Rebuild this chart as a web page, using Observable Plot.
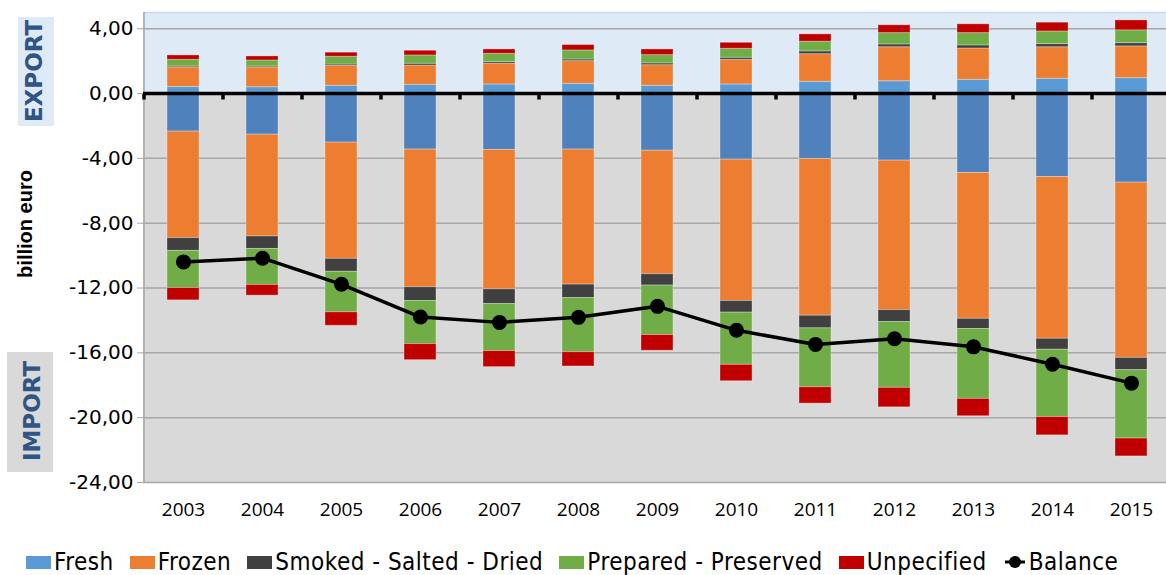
<!DOCTYPE html>
<html>
<head>
<meta charset="utf-8">
<script src="https://cdn.jsdelivr.net/npm/d3@7"></script>
<script src="https://cdn.jsdelivr.net/npm/@observablehq/plot@0.6"></script>
<style>
  html, body { margin: 0; padding: 0; background: white; overflow: hidden; }
  #wrap { position: relative; width: 1166px; height: 575px; overflow: hidden; }
  #wrap svg { overflow: hidden; }
  .vlab { position: absolute; transform: translate(-50%, -50%) rotate(-90deg); white-space: nowrap; }
  .box { position: absolute; }
  #legend { position: absolute; left: 26px; top: 547px; display: flex; align-items: center; height: 30px;
            font-family: "DejaVu Sans Condensed", "DejaVu Sans", sans-serif; font-stretch: condensed; font-size: 24px;
            letter-spacing: 0.5px; color: #000; }
  .item { display: flex; align-items: center; margin-right: 16px; }
  .sw { width: 25px; height: 13px; margin-right: 3px; }
</style>
</head>
<body>
<div id="wrap"></div>
<script>
// ---- data (billion euro) ----
const years = ["2003","2004","2005","2006","2007","2008","2009","2010","2011","2012","2013","2014","2015"];
const categories = ["Fresh","Frozen","Smoked - Salted - Dried","Prepared - Preserved","Unpecified"];

// exports (positive)
const expFresh     = [0.41,0.39,0.48,0.54,0.56,0.60,0.48,0.56,0.72,0.76,0.85,0.91,0.95];
const expFrozen    = [1.20,1.22,1.23,1.19,1.28,1.40,1.27,1.52,1.71,2.10,1.93,1.95,1.96];
const expSmoked    = [0.06,0.06,0.08,0.11,0.10,0.10,0.11,0.13,0.17,0.17,0.19,0.19,0.20];
const expPrepared  = [0.41,0.37,0.48,0.51,0.51,0.56,0.51,0.55,0.60,0.70,0.76,0.78,0.79];
const expUnspec    = [0.27,0.25,0.25,0.29,0.27,0.33,0.35,0.37,0.45,0.48,0.54,0.54,0.61];

// imports (shown below zero)
const impFresh     = [2.35,2.54,3.03,3.46,3.48,3.46,3.53,4.08,4.04,4.14,4.90,5.15,5.50];
const impFrozen    = [6.57,6.28,7.17,8.49,8.60,8.33,7.62,8.72,9.67,9.22,9.00,9.98,10.81];
const impSmoked    = [0.79,0.77,0.80,0.85,0.91,0.83,0.70,0.72,0.78,0.74,0.63,0.68,0.76];
const impPrepared  = [2.29,2.22,2.50,2.66,2.90,3.34,3.05,3.22,3.63,4.06,4.31,4.15,4.22];
const impUnspec    = [0.76,0.66,0.83,0.99,0.99,0.88,0.97,1.01,1.01,1.20,1.07,1.13,1.10];

// trade balance
const balance      = [-10.39,-10.16,-11.77,-13.79,-14.12,-13.81,-13.13,-14.61,-15.48,-15.13,-15.63,-16.70,-17.87];

const yTicks = [4,0,-4,-8,-12,-16,-20,-24];
const yMin = -24, yMax = 5;

// ---- build tables ----
const expSeries = [expFresh, expFrozen, expSmoked, expPrepared, expUnspec];
const impSeries = [impFresh, impFrozen, impSmoked, impPrepared, impUnspec];
const colorKeys = ["Fresh export","Fresh import","Frozen","Smoked - Salted - Dried","Prepared - Preserved","Unpecified"];
const colorRange = ["#5b9bd5","#4f81bd","#ed7d31","#404040","#70ad47","#c00000"];

const rows = [];
categories.forEach((c, ci) => years.forEach((yr, i) => rows.push({
  year: yr, cat: c, z: "E " + c, value: expSeries[ci][i], key: ci === 0 ? "Fresh export" : c })));
categories.forEach((c, ci) => years.forEach((yr, i) => rows.push({
  year: yr, cat: c, z: "I " + c, value: -impSeries[ci][i], key: ci === 0 ? "Fresh import" : c })));
const balRows = years.map((yr, i) => ({year: yr, value: balance[i]}));

const W = 1166, H = 530;
const xRange = [143, 1170];
const step = (xRange[1] - xRange[0]) / years.length;

const chart = Plot.plot({
  width: W, height: H,
  marginLeft: 143, marginRight: 0, marginTop: 12, marginBottom: 48,
  style: { background: "white", color: "#000", fontFamily: "DejaVu Sans", overflow: "hidden" },
  x: { type: "band", domain: years, range: xRange, paddingInner: 0.6, paddingOuter: 0.3, label: null },
  y: { domain: [yMin, yMax], label: null },
  color: { domain: colorKeys, range: colorRange },
  marks: [
    Plot.rect([{lo: yMin, hi: 0}], { y1: "lo", y2: "hi", fill: "#d9d9d9" }),
    Plot.rect([{lo: 0, hi: yMax}], { y1: "lo", y2: "hi", fill: "#deebf7" }),
    Plot.ruleY(yTicks.filter(d => d !== 0), { stroke: "#a6a6a6", strokeWidth: 1.5 }),
    Plot.ruleY([yMax], { stroke: "#c5d9f1", strokeWidth: 1.5 }),
    Plot.ruleX([years[0]], { dx: -step / 2, stroke: "#a6a6a6", strokeWidth: 1.5 }),
    Plot.barY(rows, { x: "year", y: "value", z: "z", fill: "key", stroke: "white", strokeOpacity: 0.3, strokeWidth: 1 }),
    Plot.ruleY([0], { stroke: "black", strokeWidth: 3.5 }),
    Plot.ruleX(years, { x: d => d, y1: 0, y2: -0.4, dx: -step / 2, stroke: "black", strokeWidth: 3.5 }),
    Plot.line(balRows, { x: "year", y: "value", stroke: "black", strokeWidth: 3.5 }),
    Plot.dot(balRows, { x: "year", y: "value", r: 7.5, fill: "black", stroke: "none" }),
    Plot.axisY(yTicks, { tickSize: 6, tickPadding: 4, stroke: "#a6a6a6", fontSize: 20, fontFamily: "DejaVu Sans",
      tickFormat: d => d.toFixed(2).replace(".", ","), label: null }),
    Plot.axisX({ tickSize: 0, tickPadding: 20, fontSize: 19, fontFamily: "Open Sans", label: null })
  ]
});

const wrap = document.getElementById("wrap");
wrap.appendChild(chart);

// side labels
function addBox(left, top, w, h, bg) {
  const d = document.createElement("div");
  d.className = "box";
  Object.assign(d.style, { left: left + "px", top: top + "px", width: w + "px", height: h + "px", background: bg });
  wrap.appendChild(d);
}
function addVLabel(text, cx, cy, css) {
  const d = document.createElement("div");
  d.className = "vlab";
  d.textContent = text;
  Object.assign(d.style, { left: cx + "px", top: cy + "px" }, css);
  wrap.appendChild(d);
}
addBox(18, 17, 36, 109, "#deebf7");
addBox(7, 352, 46, 120, "#d9d9d9");
const sideCss = { fontFamily: "DejaVu Sans", fontWeight: "bold", fontSize: "23px", color: "#2e5583" };
addVLabel("EXPORT", 34, 71, sideCss);
addVLabel("IMPORT", 32, 411, sideCss);
addVLabel("billion euro", 25, 224, { fontFamily: "Liberation Sans", fontWeight: "bold", fontSize: "20px", color: "#000" });

// legend
const legend = document.createElement("div");
legend.id = "legend";
const legItems = [
  ["Fresh", "#5b9bd5"], ["Frozen", "#ed7d31"], ["Smoked - Salted - Dried", "#404040"],
  ["Prepared - Preserved", "#70ad47"], ["Unpecified", "#c00000"]
];
legItems.forEach(([name, col]) => {
  const it = document.createElement("div"); it.className = "item";
  const sw = document.createElement("div"); sw.className = "sw"; sw.style.background = col;
  const tx = document.createElement("span"); tx.textContent = name;
  it.appendChild(sw); it.appendChild(tx); legend.appendChild(it);
});
const bal = document.createElement("div"); bal.className = "item";
bal.innerHTML = '<svg width="24" height="16" style="margin-right:2px"><line x1="2" x2="22" y1="8" y2="8" stroke="black" stroke-width="3"/><circle cx="12" cy="8" r="6" fill="black"/></svg><span>Balance</span>';
legend.appendChild(bal);
wrap.appendChild(legend);
</script>
</body>
</html>
